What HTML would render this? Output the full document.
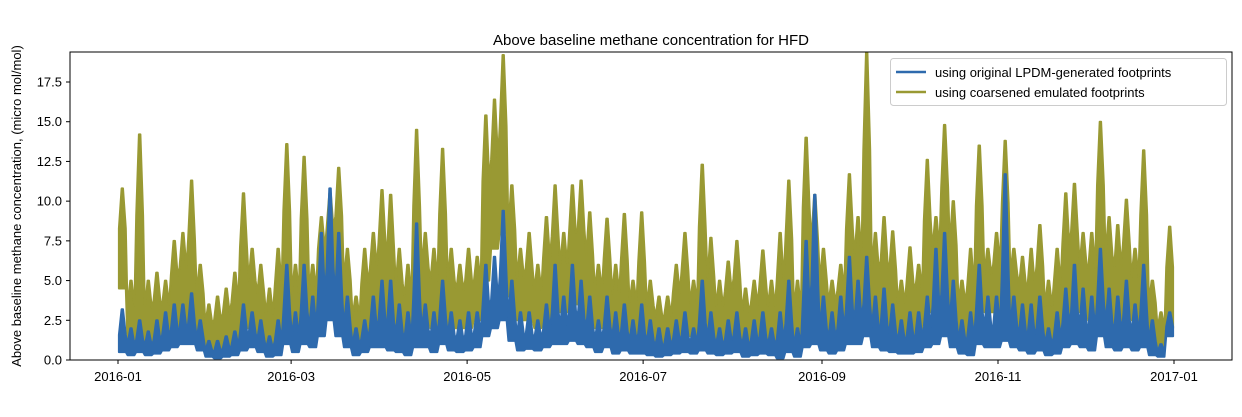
<!DOCTYPE html>
<html><head><meta charset="utf-8"><style>
body{margin:0;background:#fff;font-family:"Liberation Sans",sans-serif}
svg text{font-family:"Liberation Sans",sans-serif;fill:#000}
</style></head><body>
<svg width="1242" height="412" viewBox="0 0 1242 412">
<text x="651" y="45" text-anchor="middle" font-size="15">Above baseline methane concentration for HFD</text>
<text transform="translate(21,206) rotate(-90)" text-anchor="middle" font-size="13">Above baseline methane concentration, (micro mol/mol)</text>
<g id="yt"></g>
<g id="xt"></g>
<clipPath id="cp"><rect x="70" y="52" width="1162" height="308"/></clipPath>
<g clip-path="url(#cp)">
<path id="green" fill="#999933" stroke="#999933" stroke-width="2" stroke-linejoin="round"/>
<path id="blue" fill="#2e6aad" stroke="#2e6aad" stroke-width="2" stroke-linejoin="round"/>
</g>
<rect x="70" y="52" width="1162" height="308" fill="none" stroke="#000" stroke-width="1"/>
<g>
<rect x="890.5" y="58.5" width="336" height="47" rx="3" fill="#fff" stroke="#ccc"/>
<line x1="896" y1="72" x2="926" y2="72" stroke="#2e6aad" stroke-width="2.5"/>
<text x="935" y="77" font-size="13">using original LPDM-generated footprints</text>
<line x1="896" y1="92" x2="926" y2="92" stroke="#999933" stroke-width="2.5"/>
<text x="935" y="97" font-size="13">using coarsened emulated footprints</text>
</g>
</svg>
<script>
const yTicks=[0,2.5,5,7.5,10,12.5,15,17.5];
const yLabels=["0.0","2.5","5.0","7.5","10.0","12.5","15.0","17.5"];
const xTickDays=[0,60,121,182,244,305,366];
const xLabels=["2016-01","2016-03","2016-05","2016-07","2016-09","2016-11","2017-01"];
const binDays=3;
const gHigh=[10.8,5,14.2,5,5.5,5,7.5,8,11.3,6,3.5,4,4.5,5.5,10.5,7,6,4.5,7,13.6,6,12.8,6,9,10.5,12.1,7,4,7,8,10.7,10.4,7,6,14.5,8,7,13.3,7,6,7,6.5,15.4,16.4,19.2,11,7,8,6,9,11,8,11,11.3,9.3,6,8.9,6,9.2,5,9.3,5,4,4,6,8,5,12.3,7.7,5,6.2,7.5,4.5,5,6.9,5,8,11.3,5,14,10.4,7,5,6,11.7,9,19.4,8,9,8.1,5,7.1,6,12.6,9,14.8,10,5,7,13.5,7,8,13.8,7,6.5,7,8.5,5,7,10.5,11.1,8,8,15,9,8.5,10.1,7,13.2,5,3,8.4];
const gLow=[4.5,1,1.5,0.8,1,1.2,2,2.5,2,1.5,0.5,0.3,0.5,0.8,2,2,1.5,0.5,1,3,1.5,3,2,4,5,4.5,2,0.8,1.5,2.5,2.5,2,1.5,1,2.5,2.5,2,3,2,2,2,2.5,5,7,8,4,2.5,2.5,2,2.5,3,3,3.5,3.5,2.5,2,2.5,1.5,2,1.5,1.5,1,0.8,1,1.5,2,1.5,2.5,1.5,1,1.5,1.5,0.8,1.2,1.5,1,0.5,2,0.5,3,3,2,1.5,2,3,3,4,2.5,2,2,1.5,1.5,2,3,4,5,3,1.5,1,4,3,3,4,3,2,1.5,2,1,1.5,2.5,3.5,3,2.5,5,3,2,3,2.5,3,1.5,0.5,2];
const bHigh=[3.2,2,2.5,1.8,2.5,3,3.5,3.5,4.2,2.5,1.2,1.2,1.5,1.8,3.5,3,2.5,1.5,2.5,6,3,6,4,8,10.8,8,4,2,2.5,4,5,5,3.5,3,8.6,3.5,3,5,3,2.5,3,3,6,6.5,9.4,5,3,3,2.5,3.5,6,4,6,5,4,2.5,4,3,3.5,2.5,3.5,2.5,2,2,2.5,3,2,5,3,2,2.5,3,2,2.5,3,2,3,5,2,7.5,10.4,4,3,4,6.5,5,6.5,4,4.5,3.5,2.5,3,3,4,7,8,5,2.5,3,6,4,4,11.7,4,3.5,3.5,4,2,3,4.5,6,4.5,4,7,4.5,4,5,3.5,6,2.5,1,3];
const bLow=[0.5,0.3,0.5,0.3,0.4,0.6,0.8,1,1,0.6,0.2,0.1,0.2,0.3,0.6,0.8,0.5,0.2,0.3,1,0.5,1,0.8,1.5,2.5,1.5,0.8,0.3,0.5,0.8,0.8,0.6,0.5,0.3,0.8,0.8,0.5,1,0.6,0.5,0.6,0.8,1.5,2,2.5,1.2,0.6,0.7,0.6,0.8,1,1,1.2,1,0.8,0.5,0.8,0.4,0.6,0.4,0.4,0.3,0.2,0.3,0.4,0.5,0.4,0.6,0.4,0.3,0.4,0.5,0.2,0.3,0.4,0.3,0.1,0.5,0.2,0.8,1,0.6,0.4,0.6,1,1,1.5,0.8,0.6,0.5,0.4,0.4,0.5,0.8,1,1.5,0.8,0.4,0.3,1,0.8,0.8,1.2,0.8,0.6,0.4,0.6,0.3,0.4,0.8,1,0.8,0.6,1.5,0.8,0.6,0.8,0.6,0.8,0.3,0.2,1.5];

const NS='http://www.w3.org/2000/svg';
const X0=118,PXD=(1174-118)/366,Y0=360,PXV=(360-82)/17.5;
function xs(d){return X0+d*PXD;}
function ys(v){return Y0-v*PXV;}
function mk(t,a){const e=document.createElementNS(NS,t);for(const k in a)e.setAttribute(k,a[k]);return e;}
const yt=document.getElementById('yt');
yTicks.forEach((v,i)=>{
  const l=mk('line',{x1:66,x2:70,y1:ys(v),y2:ys(v),stroke:'#000'});
  
  
  yt.appendChild(l);
  const t=mk('text',{x:62,y:ys(v)+4.5,'text-anchor':'end','font-size':'13'});
  
  
  t.textContent=yLabels[i];yt.appendChild(t);
});
const xt=document.getElementById('xt');
xTickDays.forEach((d,i)=>{
  const l=mk('line',{x1:xs(d),x2:xs(d),y1:360,y2:364,stroke:'#000'});
  
  
  xt.appendChild(l);
  const t=mk('text',{x:xs(d),y:381,'text-anchor':'middle','font-size':'13'});
  
  
  t.textContent=xLabels[i];xt.appendChild(t);
});
function build(hi,lo,f){
  const n=hi.length;let top=[],bot=[];
  for(let k=0;k<n;k++){
    const s=k*binDays,m=s+binDays/2,e=s+binDays;
    const sh=lo[k]+f*(hi[k]-lo[k]);
    top.push([s+0.3,sh],[m-0.25,hi[k]],[m+0.25,hi[k]],[e-0.3,sh]);
    bot.push([s+0.3,lo[k]],[e-0.3,lo[k]]);
  }
  let d='M'+top.map(p=>xs(p[0]).toFixed(1)+','+ys(p[1]).toFixed(1)).join('L');
  d+='L'+bot.reverse().map(p=>xs(p[0]).toFixed(1)+','+ys(p[1]).toFixed(1)).join('L')+'Z';
  return d;
}
document.getElementById('blue').setAttribute('d',build(bHigh,bLow,0.4));
document.getElementById('green').setAttribute('d',build(gHigh,gLow,0.6));
</script>
</body></html>
